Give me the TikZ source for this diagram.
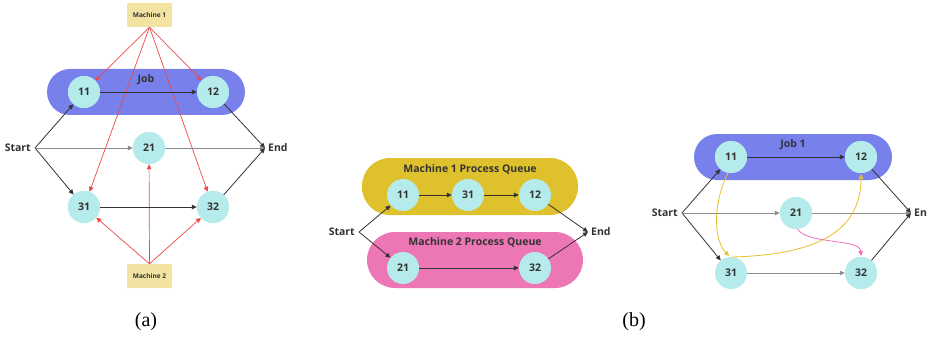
\documentclass[tikz,border=0pt]{standalone}
\usepackage{fontspec}
\newfontfamily\uifont{Open Sans}
\newfontfamily\capfont{Liberation Serif}
\usetikzlibrary{arrows.meta,shapes.geometric}
\definecolor{ncyan}{HTML}{B5EBEB}
\definecolor{jobblue}{HTML}{7880EC}
\definecolor{qyellow}{HTML}{DFC12E}
\definecolor{qpink}{HTML}{ED76B5}
\definecolor{mkhaki}{HTML}{F2E3A2}
\definecolor{redln}{HTML}{EE4848}
\definecolor{dkln}{HTML}{333333}
\definecolor{grln}{HTML}{8C8C8C}
\definecolor{txt}{HTML}{333333}
\definecolor{ycurve}{HTML}{E6C12A}
\definecolor{pcurve}{HTML}{F070B8}
\tikzset{
  opnode/.style={circle, fill=ncyan, minimum size=32pt, inner sep=0pt, text=txt,
    font=\uifont\bfseries\fontsize{10.5}{12}\selectfont},
  lbl/.style={text=txt, inner sep=0pt, font=\uifont\bfseries\fontsize{10.5}{12}\selectfont},
  machbox/.style={rectangle, fill=mkhaki, minimum width=45pt, minimum height=24pt, inner sep=0pt,
    rounded corners=1pt, text=txt, font=\uifont\bfseries\fontsize{6.5}{8}\selectfont},
  groupbox/.style={rectangle, rounded corners=#1, inner sep=0pt},
  darr/.style={draw=dkln, line width=0.8pt, -{Triangle[length=5pt,width=4.5pt]}},
  garr/.style={draw=grln, line width=0.8pt, -{Triangle[length=5pt,width=4.5pt]}},
  rarr/.style={draw=redln, line width=0.7pt, -{Triangle[length=5pt,width=4.5pt]}},
  yarr/.style={draw=ycurve, line width=0.8pt, -{Triangle[length=5pt,width=4.5pt]}},
  parr/.style={draw=pcurve, line width=0.8pt, -{Triangle[length=5pt,width=4.5pt]}},
  caplbl/.style={inner sep=0pt, font=\capfont\fontsize{20}{22}\selectfont}
}
\begin{document}
\begin{tikzpicture}[x=1pt,y=-1pt]
\useasboundingbox[fill=white] (0,0) rectangle (930,337);

% ---------------- (a) ----------------
\node[groupbox=23pt, fill=jobblue, minimum width=198pt, minimum height=46pt] (jobA) at (146,92) {};
\node[lbl] (jobAl) at (146,80) {Job};
\node[machbox] (m1) at (149.5,15) {Machine 1};
\node[machbox] (m2) at (149.5,276) {Machine 2};
\node[opnode] (a11) at (84,92) {11};
\node[opnode] (a12) at (213,92) {12};
\node[opnode] (a21) at (149,148) {21};
\node[opnode] (a31) at (84,207) {31};
\node[opnode] (a32) at (213,207) {32};
\node[lbl, anchor=east, inner sep=4pt] (aS) at (35,148) {Start};
\node[lbl, anchor=west, inner sep=3pt] (aE) at (265,148) {End};
\draw[rarr] (m1.south) -- (a11);
\draw[rarr] (m1.south) -- (a12);
\draw[rarr] (m1.south) -- (a31);
\draw[rarr] (m1.south) -- (a32);
\draw[rarr] (m2.north) -- (a31);
\draw[rarr] (m2.north) -- (a32);
\draw[rarr] (m2.north) -- (a21);
\draw[darr] (aS.east) -- (a11);
\draw[darr] (aS.east) -- (a31);
\draw[garr] (aS.east) -- (a21);
\draw[darr] (a11) -- (a12);
\draw[darr] (a31) -- (a32);
\draw[darr] (a12) -- (aE.west);
\draw[garr] (a21) -- (aE.west);
\draw[darr] (a32) -- (aE.west);
\node[opnode] at (84,92) {11};
\node[opnode] at (213,92) {12};
\node[opnode] at (149,148) {21};
\node[opnode] at (84,207) {31};
\node[opnode] at (213,207) {32};
\node[caplbl] (capa) at (146,322) {(a)};

% ---------------- (b) ----------------
\node[groupbox=28pt, fill=qyellow, minimum width=216pt, minimum height=57pt] (q1) at (470,186.5) {};
\node[groupbox=28pt, fill=qpink, minimum width=216pt, minimum height=56pt] (q2) at (475,260) {};
\node[lbl] (q1l) at (470,169) {Machine 1 Process Queue};
\node[lbl] (q2l) at (475,242) {Machine 2 Process Queue};
\node[opnode] (b11) at (403,195) {11};
\node[opnode] (b31) at (468,195) {31};
\node[opnode] (b12) at (535,195) {12};
\node[opnode] (b21) at (403,268) {21};
\node[opnode] (b32) at (535,268) {32};
\node[lbl, anchor=east, inner sep=4pt] (bS) at (359,232) {Start};
\node[lbl, anchor=west, inner sep=3pt] (bE) at (588,232) {End};
\draw[darr] (bS.east) -- (b11);
\draw[darr] (bS.east) -- (b21);
\draw[darr] (b11) -- (b31);
\draw[darr] (b31) -- (b12);
\draw[darr] (b21) -- (b32);
\draw[darr] (b12) -- (bE.west);
\draw[darr] (b32) -- (bE.west);
\node[caplbl] (capb) at (634,322) {(b)};

% ---------------- (c) ----------------
\node[groupbox=23pt, fill=jobblue, minimum width=198pt, minimum height=46pt] (jobC) at (793,157) {};
\node[lbl] (jobCl) at (793,145) {Job 1};
\node[lbl, anchor=east, inner sep=4pt] (cS) at (682,213) {Start};
\node[lbl, anchor=west, inner sep=3pt] (cE) at (911,213) {En};
\node[opnode] (c11) at (731,157) {11};
\node[opnode] (c12) at (861,157) {12};
\node[opnode] (c21) at (796,213) {21};
\node[opnode] (c31) at (731,273) {31};
\node[opnode] (c32) at (861,273) {32};
\coordinate (c11b) at (728,173);
\coordinate (c31t) at (729,256);
\coordinate (c31s) at (732,257);
\coordinate (c12b) at (861,174);
\coordinate (c21b) at (797,228);
\coordinate (c32t) at (861,256);
\draw[darr] (cS.east) -- (c11);
\draw[darr] (cS.east) -- (c31);
\draw[garr] (cS.east) -- (c21);
\draw[darr] (c11) -- (c12);
\draw[garr] (c31) -- (c32);
\draw[darr] (c12) -- (cE.west);
\draw[garr] (c21) -- (cE.west);
\draw[darr] (c32) -- (cE.west);
\draw[yarr] (c11b) .. controls (712,205) and (714,240) .. (c31t);
\draw[yarr] (c31s) .. controls (810,255) and (861,235) .. (c12b);
\draw[parr] (c21b) .. controls (805,245) and (860,238) .. (c32t);
\node[opnode] at (731,157) {11};
\node[opnode] at (861,157) {12};
\node[opnode] at (796,213) {21};
\node[opnode] at (861,273) {32};
\end{tikzpicture}
\end{document}
